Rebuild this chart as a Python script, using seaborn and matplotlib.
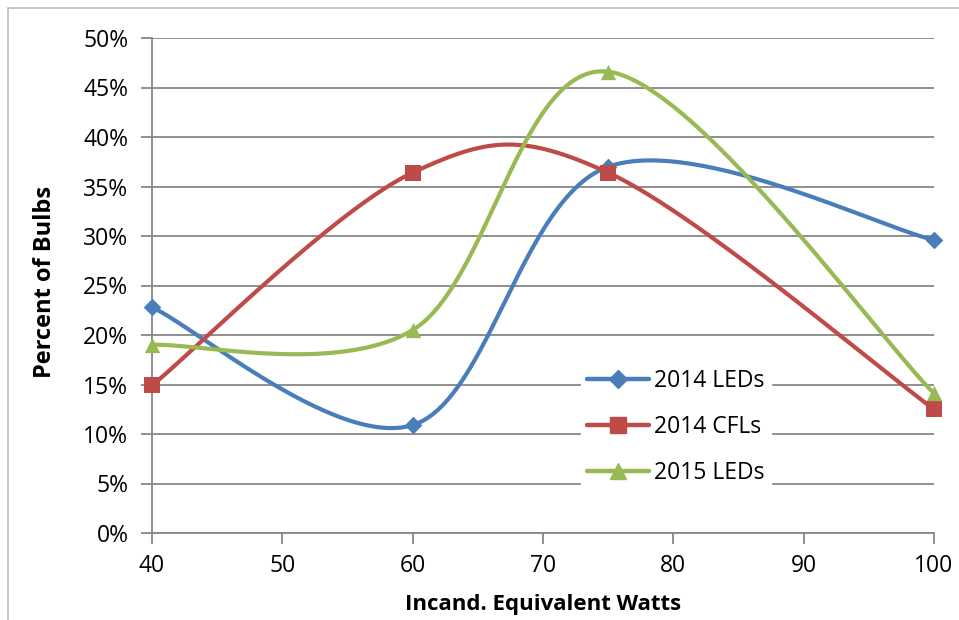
import numpy as np
import pandas as pd
import matplotlib
matplotlib.use("Agg")
import matplotlib.pyplot as plt
from matplotlib.lines import Line2D
from matplotlib.patches import Rectangle
import seaborn as sns

watts = [40, 60, 75, 100]
leds_2014 = [22.8, 10.9, 37.0, 29.6]
cfls_2014 = [14.9, 36.4, 36.4, 12.5]
leds_2015 = [19.0, 20.5, 46.6, 14.1]
series_names = ["2014 LEDs", "2014 CFLs", "2015 LEDs"]
colors = ["#4A7EBB", "#BE4B48", "#98B954"]
markers = ["D", "s", "^"]
msizes = [9, 12, 11]
y_ticks = list(range(0, 51, 5))
x_ticks = list(range(40, 101, 10))

sns.set_theme(style="white")
plt.rcParams["font.family"] = ["Open Sans", "DejaVu Sans"]

fig = plt.figure(figsize=(9.59, 6.2), dpi=100)
ax = fig.add_axes([152/959, 1-533/620, (934-152)/959, (533-38)/620])
ax.set_xlim(40, 100)
ax.set_ylim(0, 50)

df = pd.DataFrame({"watts": watts * 3,
                   "pct": leds_2014 + cfls_2014 + leds_2015,
                   "series": sum([[n] * len(watts) for n in series_names], [])})

def smooth(xs, ys, n=60):
    # Excel-style Catmull-Rom Bezier smoothing computed in display space
    pts = ax.transData.transform(np.column_stack([xs, ys]))
    out = []
    m = len(pts)
    for i in range(m - 1):
        p0 = pts[i - 1] if i > 0 else pts[i]
        p1 = pts[i]
        p2 = pts[i + 1]
        p3 = pts[i + 2] if i + 2 < m else pts[i + 1]
        c1 = p1 + (p2 - p0) / 6
        c2 = p2 - (p3 - p1) / 6
        t = np.linspace(0, 1, n)[:, None]
        seg = ((1 - t) ** 3) * p1 + 3 * ((1 - t) ** 2) * t * c1 + 3 * (1 - t) * t ** 2 * c2 + t ** 3 * p2
        out.append(seg if i == 0 else seg[1:])
    out = np.vstack(out)
    d = ax.transData.inverted().transform(out)
    return d[:, 0], d[:, 1]

for name, col, mk, ms in zip(series_names, colors, markers, msizes):
    sub = df[df.series == name]
    sx, sy = smooth(sub.watts.values, sub.pct.values)
    ax.plot(sx, sy, color=col, lw=3.0, solid_capstyle="round", zorder=3, clip_on=False)
    sns.scatterplot(data=sub, x="watts", y="pct", color=col, marker=mk, s=ms ** 2,
                    edgecolor=col, linewidth=0, ax=ax, zorder=4, clip_on=False, legend=False)

for yv in y_ticks:
    ax.axhline(yv, color="#878787", lw=1.3, zorder=1)

for s in ["top", "right"]:
    ax.spines[s].set_visible(False)
for s in ["left", "bottom"]:
    ax.spines[s].set_color("#878787")
    ax.spines[s].set_linewidth(1.3)

ax.set_yticks(y_ticks)
ax.set_yticklabels([f"{v}%" for v in y_ticks])
ax.set_xticks(x_ticks)
ax.tick_params(axis="both", which="both", length=8, width=1.3, color="#878787",
               labelsize=16.5, direction="out", left=True, bottom=True, labelcolor="black")
ax.tick_params(axis="y", pad=9)
ax.tick_params(axis="x", pad=7)
ax.set_xlabel("Incand. Equivalent Watts", fontsize=16, fontweight="bold", color="black")
ax.set_ylabel("Percent of Bulbs", fontsize=17, fontweight="bold", color="black")
ax.xaxis.set_label_coords(0.5, -0.145)
ax.yaxis.set_label_coords(-0.137, 0.507)
ax.xaxis.label.set_va("center")
ax.yaxis.label.set_va("center")

handles = [Line2D([0], [0], color=c, lw=3.2, marker=m, markersize=s, solid_capstyle="round")
           for c, m, s in zip(colors, markers, msizes)]
leg = ax.legend(handles, series_names, loc="center", bbox_to_anchor=(0.67, 0.214),
                frameon=True, framealpha=1, edgecolor="white", facecolor="white",
                fontsize=16.5, handlelength=2.7, labelspacing=0.95, borderpad=0.3,
                handletextpad=0.2, fancybox=False)
for t in leg.get_texts():
    t.set_color("black")
leg.set_zorder(5)

fig.patches.append(Rectangle((8/959, -0.1), 1.2, 1 - 8/620 + 0.1, transform=fig.transFigure,
                             fill=False, edgecolor="#BFBFBF", lw=1.2))

fig.savefig("out.png", dpi=100)
